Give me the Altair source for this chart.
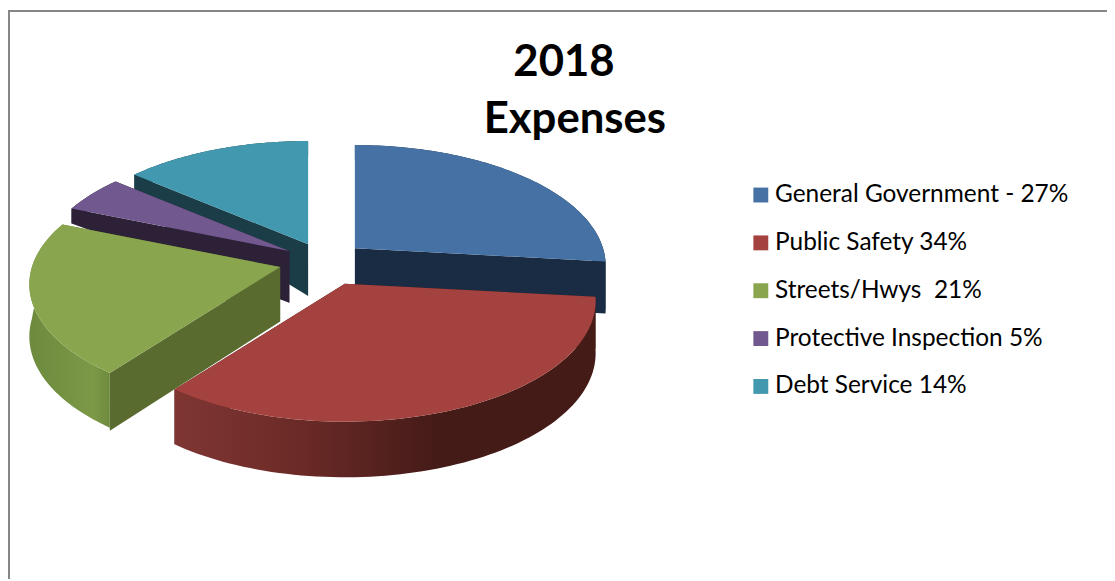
import math
import altair as alt

CATEGORIES = ["General Government", "Public Safety", "Streets/Hwys", "Protective Inspection", "Debt Service"]
SHARES = [27, 34, 21, 5, 14]
LEGEND_LABELS = ["General Government - 27%", "Public Safety 34%", "Streets/Hwys \u00a021%",
                 "Protective Inspection 5%", "Debt Service 14%"]
TOP_COLORS = ["#4571A5", "#A4423F", "#89A54E", "#71588F", "#4198AF"]
WALL_COLORS = ["#1A2C44", "#451B18", "#5A6B30", "#2D2138", "#1A3D48"]
WALL_EXTRA = [0, 0, 3, 0, 0]
TITLE_LINES = ["2018", "Expenses"]
DRAW_ORDER = [4, 3, 2, 0, 1]

# pseudo-3D view of the pie
CX, CY = 327.0, 261.0
RX, RY = 250.0, 119.0
PERSP = 0.144
EXPLODE = 0.179
FONT = "Lato"


def proj(deg):
    a = math.radians(deg)
    w = 1 + PERSP * math.cos(a)
    return RX * math.sin(a) / w, -RY * math.cos(a) / w


def depth(deg, r=1.0):
    c = math.cos(math.radians(deg))
    if c <= 0:
        return 52 - 4 * c * r
    return 52 - 37 * r * min(1.0, c / 0.38)


def feature(ring, i):
    ring = [[round(x, 2), round(y, 2)] for x, y in ring]
    ring.append(ring[0])
    return {
        "type": "Feature",
        "geometry": {"type": "Polygon", "coordinates": [ring]},
        "properties": {"category": CATEGORIES[i], "label": LEGEND_LABELS[i]},
    }


def geo(features):
    return alt.InlineData(
        values={"type": "FeatureCollection", "features": features},
        format=alt.DataFormat(property="features", type="json"),
    )


total = sum(SHARES)
starts = [360 * sum(SHARES[:i]) / total for i in range(len(SHARES))]
ends = [360 * sum(SHARES[:i + 1]) / total for i in range(len(SHARES))]

color_scale = alt.Scale(domain=LEGEND_LABELS, range=TOP_COLORS)
legend = alt.Legend(
    title=None, orient="none", legendX=746, legendY=174, symbolType="square",
    symbolSize=225, symbolStrokeWidth=0, labelFont=FONT, labelFontSize=24.6,
    labelColor="#000000", labelOffset=2, rowPadding=23.2, labelLimit=400,
)

red_fill = alt.LinearGradient(
    gradient="linear", x1=0, x2=1, y1=0, y2=0,
    stops=[alt.GradientStop(color="#7F3633", offset=0),
           alt.GradientStop(color="#6B2A27", offset=0.3),
           alt.GradientStop(color="#451B18", offset=0.62),
           alt.GradientStop(color="#451B18", offset=1)],
)
green_fill = alt.LinearGradient(
    gradient="linear", x1=0, x2=1, y1=0, y2=0,
    stops=[alt.GradientStop(color="#6E8A3E", offset=0),
           alt.GradientStop(color="#7B9947", offset=0.8),
           alt.GradientStop(color="#6E8A3E", offset=1)],
)
ARC_FILLS = {1: red_fill, 2: green_fill}

layers = [
    alt.Chart(alt.Data(values=[{"f": "frame"}])).mark_rule(color="#868686", strokeWidth=2).encode(
        x=alt.value(0), x2=alt.value(1107), y=alt.value(1)),
    alt.Chart(alt.Data(values=[{"f": "frame"}])).mark_rule(color="#868686", strokeWidth=2).encode(
        x=alt.value(1), y=alt.value(0), y2=alt.value(573)),
]

for i in DRAW_ORDER:
    s, e = starts[i], ends[i]
    bx, by = proj((s + e) / 2)
    ax, ay = CX + EXPLODE * bx, CY + EXPLODE * by
    degs = [s + (e - s) * k / 80 for k in range(81)]
    top_arc = [(ax + proj(d)[0], ay + proj(d)[1]) for d in degs]
    low_arc = [(x, y + depth(d)) for (x, y), d in zip(top_arc, degs)]
    apex_low = (ax, ay + depth(0, 0) + WALL_EXTRA[i])
    radial = [
        feature([(ax, ay), top_arc[0], (low_arc[0][0], low_arc[0][1] + WALL_EXTRA[i]), apex_low], i),
        feature([(ax, ay), top_arc[-1], low_arc[-1], apex_low], i),
    ]
    layers.append(
        alt.Chart(geo(radial))
        .mark_geoshape(fill=WALL_COLORS[i], strokeWidth=0)
        .project(type="identity", scale=1, translate=[-8, -8])
    )
    layers.append(
        alt.Chart(geo([feature(top_arc + low_arc[::-1], i)]))
        .mark_geoshape(fill=ARC_FILLS.get(i, WALL_COLORS[i]), strokeWidth=0)
        .project(type="identity", scale=1, translate=[-8, -8])
    )
    layers.append(
        alt.Chart(geo([feature([(ax, ay)] + top_arc, i)]))
        .mark_geoshape(strokeWidth=0)
        .encode(color=alt.Color("properties.label:N", scale=color_scale, legend=legend))
        .project(type="identity", scale=1, translate=[-8, -8])
    )

title_pos = [(560, 53), (571, 111)]
for line, (tx, ty) in zip(TITLE_LINES, title_pos):
    layers.append(
        alt.Chart(alt.Data(values=[{"t": line}]))
        .mark_text(font=FONT, fontWeight="bold", fontSize=44, color="#000000", align="center", baseline="middle")
        .encode(x=alt.value(tx), y=alt.value(ty), text="t:N")
    )

chart = (
    alt.layer(*layers)
    .properties(width=1107, height=573, padding=0, background="#FFFFFF",
                autosize=alt.AutoSizeParams(type="none"))
    .configure_view(stroke=None)
)
chart.save("out.html", embed_options={"renderer": "svg", "actions": False})
